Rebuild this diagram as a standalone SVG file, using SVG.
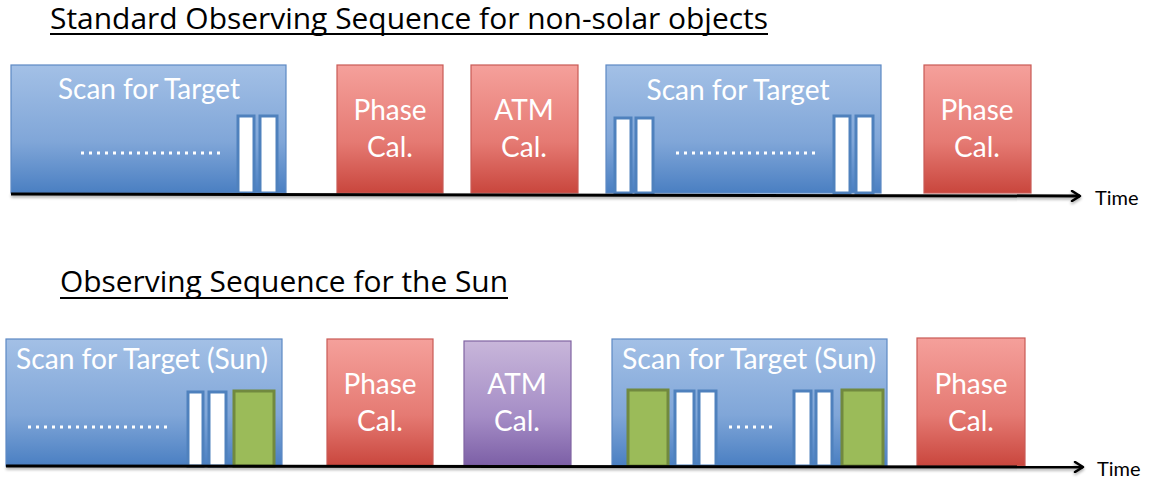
<svg xmlns="http://www.w3.org/2000/svg" width="1149" height="481" viewBox="0 0 1149 481">
  <defs>
    <linearGradient id="gBlue" x1="0" y1="0" x2="0" y2="1">
      <stop offset="0" stop-color="#a3c0e6"/>
      <stop offset="0.6" stop-color="#80a6d8"/>
      <stop offset="1" stop-color="#4a7fc2"/>
    </linearGradient>
    <linearGradient id="gRed" x1="0" y1="0" x2="0" y2="1">
      <stop offset="0" stop-color="#f5a09b"/>
      <stop offset="0.6" stop-color="#e57a73"/>
      <stop offset="1" stop-color="#c9463d"/>
    </linearGradient>
    <linearGradient id="gPurple" x1="0" y1="0" x2="0" y2="1">
      <stop offset="0" stop-color="#c8b6da"/>
      <stop offset="0.6" stop-color="#a58dc6"/>
      <stop offset="1" stop-color="#7c5fa6"/>
    </linearGradient>
    <filter id="shadow" x="-5%" y="-50%" width="110%" height="300%">
      <feGaussianBlur in="SourceAlpha" stdDeviation="1.5"/>
      <feOffset dx="0" dy="2" result="b"/>
      <feComponentTransfer><feFuncA type="linear" slope="0.35"/></feComponentTransfer>
      <feMerge><feMergeNode/><feMergeNode in="SourceGraphic"/></feMerge>
    </filter>
    <marker id="arrow" viewBox="0 0 12 12" refX="10" refY="6" markerWidth="12" markerHeight="12" markerUnits="userSpaceOnUse" orient="auto">
      <path d="M2,1 L10,6 L2,11" fill="none" stroke="#000" stroke-width="2.5" stroke-linecap="round" stroke-linejoin="round"/>
    </marker>
  </defs>
  <style>
    .title { font-family: "Open Sans", Lato, "Liberation Sans", sans-serif; font-size: 29px; fill: #000; }
    .lbl { font-family: Lato, "Open Sans", "Liberation Sans", sans-serif; font-size: 28px; fill: #fff; text-anchor: middle; }
    .time { font-family: Lato, "Open Sans", "Liberation Sans", sans-serif; font-size: 20px; fill: #000; }
    .scan { fill: url(#gBlue); stroke: #5d89c4; stroke-width: 1.2; }
    .phase { fill: url(#gRed); stroke: #c85a55; stroke-width: 1.2; }
    .atm { fill: url(#gRed); stroke: #c85a55; stroke-width: 1.2; }
    .atmsun { fill: url(#gPurple); stroke: #8064a2; stroke-width: 1.2; }
    .bar { fill: #fff; stroke: #4f81bd; stroke-width: 3; }
    .green { fill: #9bbb59; stroke: #71893f; stroke-width: 3; }
    .dots { stroke: #fff; stroke-width: 3; stroke-dasharray: 3 5; fill: none; }
    .axis { stroke: #000; stroke-width: 3; fill: none; }
    .uline { stroke: #000; stroke-width: 2; }
  </style>

  <!-- Headings -->
  <g id="title-standard">
    <text class="title" x="50" y="29" textLength="718" lengthAdjust="spacingAndGlyphs">Standard Observing Sequence for non-solar objects</text>
    <line class="uline" x1="50" y1="34" x2="768" y2="34"/>
  </g>
  <g id="title-sun">
    <text class="title" x="60" y="292" textLength="448" lengthAdjust="spacingAndGlyphs">Observing Sequence for the Sun</text>
    <line class="uline" x1="60" y1="298" x2="508" y2="298"/>
  </g>

  <!-- Standard sequence -->
  <g id="std-scan-1">
    <rect class="scan" x="11" y="65" width="275" height="128"/>
    <text class="lbl" x="149" y="99" textLength="182" lengthAdjust="spacingAndGlyphs">Scan for Target</text>
    <line class="dots" x1="81" y1="153" x2="220" y2="153"/>
    <rect class="bar" x="238" y="116" width="16" height="77"/>
    <rect class="bar" x="260" y="116" width="17" height="77"/>
  </g>
  <g id="std-phase-1">
    <rect class="phase" x="337" y="65" width="106" height="128"/>
    <text class="lbl" x="390" y="120">Phase</text>
    <text class="lbl" x="390" y="157">Cal.</text>
  </g>
  <g id="std-atm">
    <rect class="atm" x="471" y="65" width="107" height="128"/>
    <text class="lbl" x="524" y="120">ATM</text>
    <text class="lbl" x="524" y="157">Cal.</text>
  </g>
  <g id="std-scan-2">
    <rect class="scan" x="606" y="65" width="275" height="128"/>
    <text class="lbl" x="738" y="100" textLength="183" lengthAdjust="spacingAndGlyphs">Scan for Target</text>
    <line class="dots" x1="676" y1="153" x2="815" y2="153"/>
    <rect class="bar" x="615" y="118" width="16" height="75"/>
    <rect class="bar" x="636" y="118" width="17" height="75"/>
    <rect class="bar" x="834" y="116" width="16" height="77"/>
    <rect class="bar" x="856" y="116" width="17" height="77"/>
  </g>
  <g id="std-phase-2">
    <rect class="phase" x="924" y="65" width="107" height="128"/>
    <text class="lbl" x="977" y="120">Phase</text>
    <text class="lbl" x="977" y="157">Cal.</text>
  </g>

  <!-- Solar sequence -->
  <g id="sun-scan-1">
    <rect class="scan" x="6" y="339" width="276" height="127"/>
    <text class="lbl" x="142" y="369" textLength="252" lengthAdjust="spacingAndGlyphs">Scan for Target (Sun)</text>
    <line class="dots" x1="28" y1="427" x2="167" y2="427"/>
    <rect class="bar" x="188" y="392" width="15" height="74"/>
    <rect class="bar" x="209" y="392" width="17" height="74"/>
    <rect class="green" x="234" y="391" width="40" height="75"/>
  </g>
  <g id="sun-phase-1">
    <rect class="phase" x="327" y="339" width="106" height="127"/>
    <text class="lbl" x="380" y="394">Phase</text>
    <text class="lbl" x="380" y="431">Cal.</text>
  </g>
  <g id="sun-atm">
    <rect class="atmsun" x="464" y="341" width="107" height="125"/>
    <text class="lbl" x="517" y="394">ATM</text>
    <text class="lbl" x="517" y="431">Cal.</text>
  </g>
  <g id="sun-scan-2">
    <rect class="scan" x="612" y="339" width="275" height="127"/>
    <text class="lbl" x="749" y="369" textLength="254" lengthAdjust="spacingAndGlyphs">Scan for Target (Sun)</text>
    <line class="dots" x1="729" y1="427" x2="772" y2="427"/>
    <rect class="green" x="628" y="390" width="40" height="76"/>
    <rect class="bar" x="675" y="391" width="19" height="75"/>
    <rect class="bar" x="699" y="391" width="17" height="75"/>
    <rect class="bar" x="794" y="391" width="17" height="75"/>
    <rect class="bar" x="816" y="391" width="16" height="75"/>
    <rect class="green" x="842" y="390" width="41" height="76"/>
  </g>
  <g id="sun-phase-2">
    <rect class="phase" x="917" y="338" width="108" height="128"/>
    <text class="lbl" x="971" y="394">Phase</text>
    <text class="lbl" x="971" y="431">Cal.</text>
  </g>

  <!-- Time axes -->
  <g id="connectors" filter="url(#shadow)">
    <line class="axis" x1="11" y1="194" x2="1080" y2="196" marker-end="url(#arrow)"/>
    <line class="axis" x1="6" y1="466" x2="1083" y2="467" marker-end="url(#arrow)"/>
  </g>
  <text class="time" x="1095" y="205">Time</text>
  <text class="time" x="1097" y="476">Time</text>
</svg>
